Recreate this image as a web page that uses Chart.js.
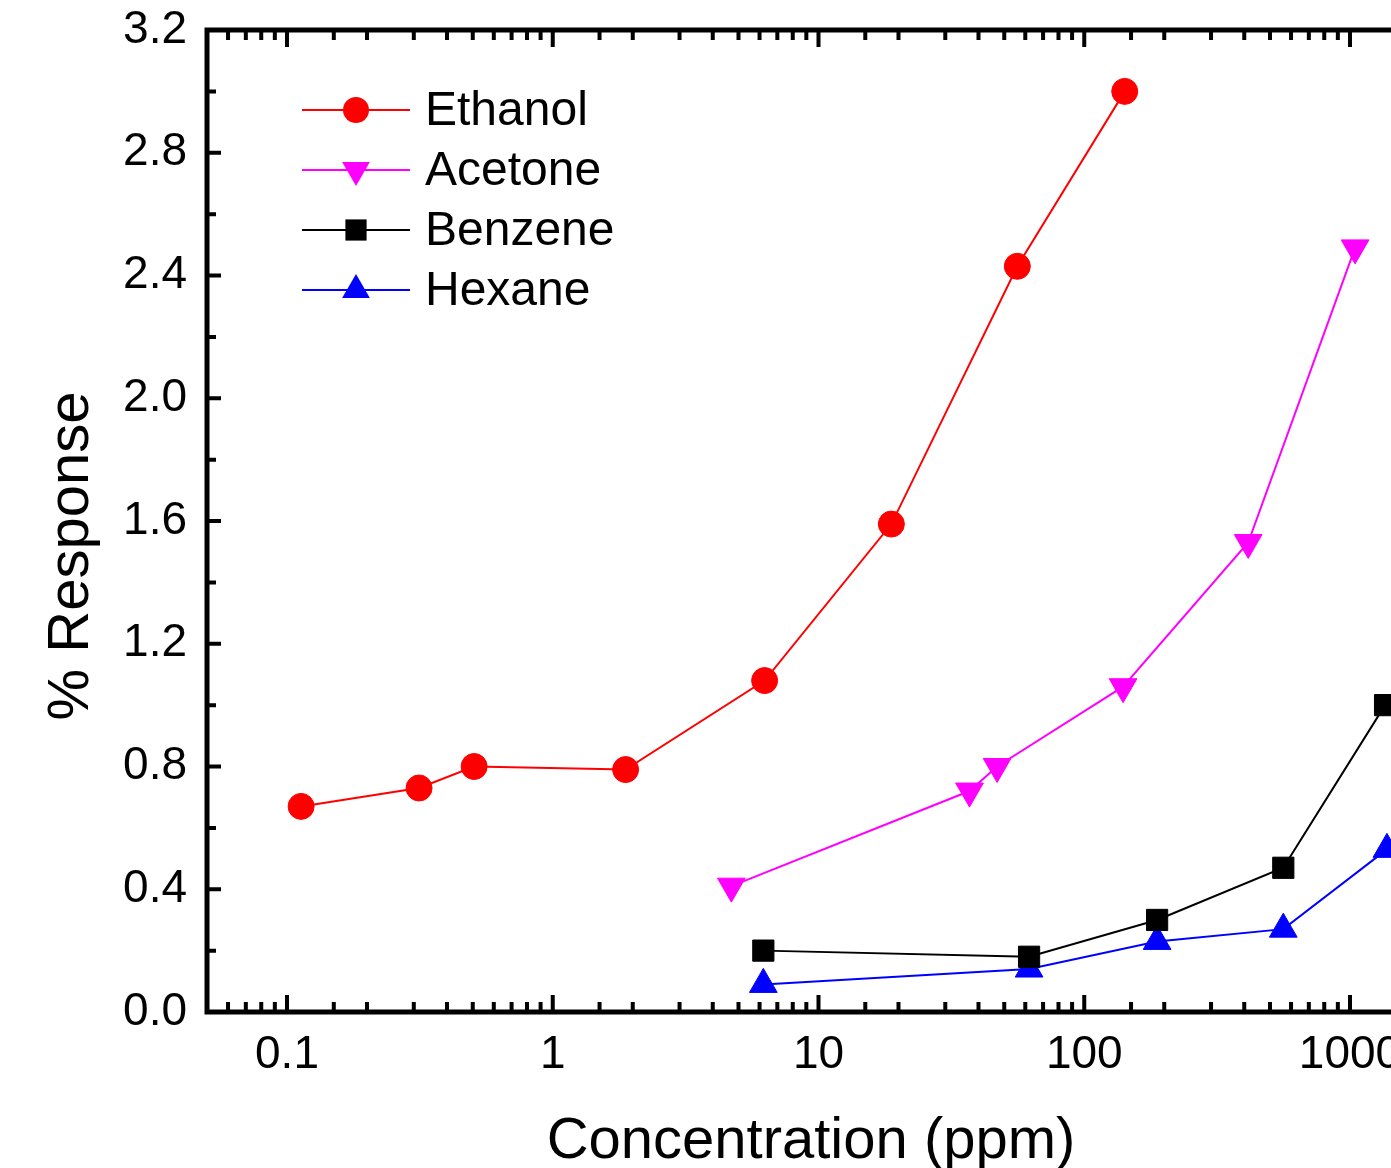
<!DOCTYPE html>
<html>
<head>
<meta charset="utf-8">
<script src="https://cdn.jsdelivr.net/npm/chart.js@4/dist/chart.umd.min.js"></script>
<style>
	html, body { margin: 0; padding: 0; background: #fff; overflow: hidden; }
	#wrap { width: 1700px; height: 1168px; }
</style>
</head>
<body>
<div id="wrap"><canvas id="myChart" width="1700" height="1168"></canvas></div>
<script>
// values (concentration in ppm, response in %)
const ethanolX = [0.113, 0.314, 0.506, 1.88, 6.27, 18.8, 56, 142];
const ethanolY = [0.67, 0.73, 0.80, 0.79, 1.08, 1.59, 2.43, 3.00];
const acetoneX = [4.7, 37, 47, 140, 414, 1045];
const acetoneY = [0.41, 0.72, 0.80, 1.06, 1.53, 2.49];
const benzeneX = [6.2, 62, 188, 561, 1355];
const benzeneY = [0.20, 0.18, 0.30, 0.47, 1.00];
const hexaneX = [6.2, 62, 188, 561, 1377];
const hexaneY = [0.09, 0.14, 0.23, 0.27, 0.53];
const xTickLabels = ['0.1', '1', '10', '100', '1000'];
const yTickLabels = ['0.0', '0.4', '0.8', '1.2', '1.6', '2.0', '2.4', '2.8', '3.2'];

const FONT = "'Liberation Sans', Arial, sans-serif";

function points(xs, ys){
	return xs.map(function (x, i){ return {x: x, y: ys[i]}; });
}

function drawMarker(ctx, style, radius, rotation, x, y){
	if (Chart.helpers && Chart.helpers.drawPoint) {
		Chart.helpers.drawPoint(ctx, {pointStyle: style, radius: radius, rotation: rotation}, x, y);
		return;
	}
	ctx.beginPath();
	ctx.arc(x, y, radius, 0, Math.PI * 2);
	ctx.fill();
}

const framePlugin = {
	id: 'frame',
	afterDraw(chart){
		const ctx = chart.ctx;
		const a = chart.chartArea;
		const xs = chart.scales.x;
		const ys = chart.scales.y;
		ctx.save();
		ctx.strokeStyle = '#000';
		ctx.lineCap = 'butt';

		// inward ticks, bottom and top
		ctx.lineWidth = 4;
		xs.ticks.forEach(function (t){
			const v = t.value;
			if (v < xs.min || v > xs.max) return;
			const p = xs.getPixelForValue(v);
			const lg = Math.log10(v);
			const major = Math.abs(lg - Math.round(lg)) < 1e-6;
			const len = major ? 17 : 10;
			ctx.beginPath();
			ctx.moveTo(p, a.bottom); ctx.lineTo(p, a.bottom - len);
			ctx.moveTo(p, a.top); ctx.lineTo(p, a.top + len);
			ctx.stroke();
		});
		// inward ticks, left and right
		ys.ticks.forEach(function (t){
			const p = ys.getPixelForValue(t.value);
			const major = Math.abs(t.value / 0.4 - Math.round(t.value / 0.4)) < 1e-6;
			const len = major ? 14 : 9;
			ctx.beginPath();
			ctx.moveTo(a.left, p); ctx.lineTo(a.left + len, p);
			ctx.moveTo(a.right, p); ctx.lineTo(a.right - len, p);
			ctx.stroke();
		});

		// frame
		ctx.lineWidth = 5;
		ctx.strokeRect(a.left, a.top, a.right - a.left, a.bottom - a.top);

		// axis titles
		ctx.fillStyle = '#000';
		ctx.font = '58px ' + FONT;
		ctx.textAlign = 'center';
		ctx.textBaseline = 'alphabetic';
		ctx.fillText('Concentration (ppm)', 811, 1158);
		ctx.save();
		ctx.translate(88, 556);
		ctx.rotate(-Math.PI / 2);
		ctx.fillText('% Response', 0, 0);
		ctx.restore();

		// legend inside the plot
		ctx.font = '48px ' + FONT;
		ctx.textAlign = 'left';
		ctx.textBaseline = 'middle';
		chart.data.datasets.forEach(function (ds, i){
			const y = 110 + 60 * i;
			ctx.strokeStyle = ds.borderColor;
			ctx.lineWidth = ds.borderWidth;
			ctx.beginPath();
			ctx.moveTo(302, y); ctx.lineTo(410, y);
			ctx.stroke();
			ctx.fillStyle = ds.pointBackgroundColor;
			ctx.strokeStyle = ds.pointBorderColor;
			ctx.lineWidth = 1;
			drawMarker(ctx, ds.pointStyle, ds.pointRadius, ds.pointRotation, 356, y);
			ctx.fillStyle = '#000';
			ctx.fillText(ds.label, 425, y + 2);
		});
		ctx.restore();
	}
};

function series(label, xs, ys, color, style, radius, rotation){
	return {
		label: label,
		data: points(xs, ys),
		borderColor: color,
		backgroundColor: color,
		pointBackgroundColor: color,
		pointBorderColor: color,
		pointBorderWidth: 1,
		borderWidth: 2,
		pointStyle: style,
		pointRadius: radius,
		pointHoverRadius: radius,
		pointRotation: rotation,
		tension: 0
	};
}

const ctx = document.getElementById('myChart');
const myChart = new Chart(ctx, {
	type: 'line',
	data: {
		datasets: [
			series('Ethanol', ethanolX, ethanolY, '#ff0000', 'circle', 13, 0),
			series('Acetone', acetoneX, acetoneY, '#ff00ff', 'triangle', 16, 180),
			series('Benzene', benzeneX, benzeneY, '#000000', 'rect', 15, 0),
			series('Hexane', hexaneX, hexaneY, '#0000ff', 'triangle', 16, 0)
		]
	},
	options: {
		responsive: false,
		animation: false,
		layout: { padding: { top: 30, right: 270, left: 0, bottom: 0 } },
		plugins: { legend: { display: false }, tooltip: { enabled: false } },
		scales: {
			x: {
				type: 'logarithmic',
				min: 0.05,
				max: 2000,
				grid: { display: false, drawTicks: false },
				border: { display: false },
				afterFit(scale){
					scale.height = 156;
					scale.paddingLeft = 0;
					scale.paddingRight = 0;
				},
				ticks: {
					autoSkip: false,
					maxRotation: 0,
					padding: 16,
					color: '#000',
					font: { family: FONT, size: 46 },
					callback(v){
						const lg = Math.log10(v);
						if (Math.abs(lg - Math.round(lg)) > 1e-6) return '';
						const i = Math.round(lg) + 1;
						return xTickLabels[i] !== undefined ? xTickLabels[i] : '';
					}
				}
			},
			y: {
				min: 0,
				max: 3.2,
				grid: { display: false, drawTicks: false },
				border: { display: false },
				afterFit(scale){
					scale.width = 207;
					scale.paddingTop = 0;
					scale.paddingBottom = 0;
				},
				ticks: {
					stepSize: 0.2,
					autoSkip: false,
					padding: 20,
					color: '#000',
					font: { family: FONT, size: 46 },
					callback(v){
						const k = v / 0.4;
						if (Math.abs(k - Math.round(k)) > 1e-6) return '';
						return yTickLabels[Math.round(k)];
					}
				}
			}
		}
	},
	plugins: [framePlugin]
});
</script>
</body>
</html>
